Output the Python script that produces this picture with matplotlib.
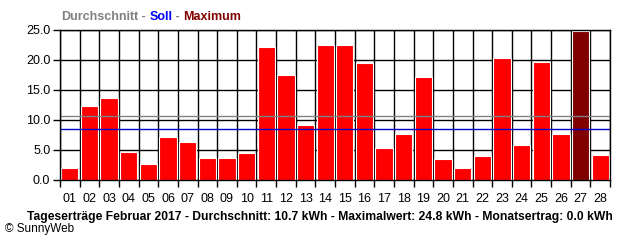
import numpy as np
import matplotlib
matplotlib.use('Agg')
import matplotlib.pyplot as plt

# daily yields Feb 2017 (kWh)
days = ['%02d' % d for d in range(1, 29)]
values = [2.0, 12.3, 13.6, 4.7, 2.7, 7.2, 6.3, 3.7, 3.7, 4.5,
          22.1, 17.5, 9.1, 22.5, 22.5, 19.5, 5.3, 7.7, 17.2, 3.5,
          2.0, 4.0, 20.4, 5.8, 19.7, 7.7, 24.8, 4.2]
average = 10.7
target = 8.45
y_ticks = [0, 5, 10, 15, 20, 25]
header = [('Durchschnitt', '#808080'), (' - ', '#808080'), ('Soll', '#0000ff'),
          (' - ', '#808080'), ('Maximum', '#800000')]

plt.rcParams['font.family'] = ['Liberation Sans', 'DejaVu Sans']

fig = plt.figure(figsize=[6.4, 2.4], dpi=100)
ax = fig.add_axes([60/640, 60/240, 550/640, 150/240])

x = np.arange(len(values))
imax = int(np.argmax(values))
colors = ['#ff0000'] * len(values)
colors[imax] = '#800000'
ax.bar(x, values, width=0.88, color=colors, edgecolor='white', linewidth=0.8, zorder=3)

ax.set_xlim(-0.5, len(values) - 0.5)
ax.set_ylim(0, 25)

# grid between bars
for b in np.arange(-0.5, len(values), 1.0):
    ax.axvline(b, color='black', lw=1, zorder=1)
for t in y_ticks:
    ax.axhline(t, color='black', lw=1, zorder=1)
ax.axhline(average, color='#808080', lw=1, zorder=4)
ax.axhline(target, color='#0000cc', lw=1, zorder=4)

ax.set_yticks(y_ticks)
ax.set_yticklabels(['%.1f' % t for t in y_ticks], fontsize=9)
ax.set_xticks(np.arange(-0.5, len(values), 1.0))
ax.set_xticklabels([])
ax.set_xticks(x, minor=True)
ax.set_xticklabels(days, minor=True, fontsize=9)
ax.tick_params(axis='x', which='major', length=5, width=1, color='black')
ax.tick_params(axis='x', which='minor', length=0, pad=9)
ax.tick_params(axis='y', length=5, width=1, pad=2)
for s in ax.spines.values():
    s.set_linewidth(1)
    s.set_zorder(5)

# header legend, pieces placed one after another
renderer = fig.canvas.get_renderer()
xpos = 61
for txt, col in header:
    t = fig.text(xpos/640, 1 - 17/240, txt, color=col, fontsize=9,
                 fontweight='bold', va='center', ha='left')
    xpos += t.get_window_extent(renderer).width

fig.text(320/640, 1 - 217/240,
         'Tageserträge Februar 2017 - Durchschnitt: 10.7 kWh - Maximalwert: 24.8 kWh - Monatsertrag: 0.0 kWh',
         fontsize=8.75, fontweight='bold', ha='center', va='center')
fig.text(5/640, 1 - 229/240, '© SunnyWeb', fontsize=8.5, ha='left', va='center')

fig.savefig('out.png', dpi=100)
